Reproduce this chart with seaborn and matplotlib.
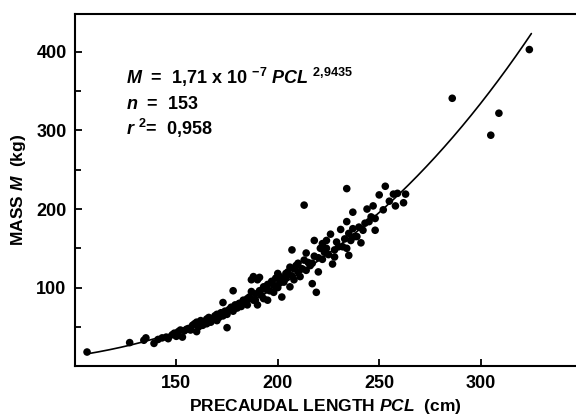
import numpy as np
import pandas as pd
import seaborn as sns
import matplotlib.pyplot as plt
from matplotlib.ticker import MultipleLocator

# Precaudal length (cm) and mass (kg)
pcl = [106, 127, 134, 135, 139, 141, 143, 145, 146, 148,
       149, 150, 151, 152, 153, 154, 155, 156, 157, 158,
       159, 160, 160, 161, 162, 163, 164, 165, 165, 166,
       167, 168, 169, 170, 170, 171, 172, 173, 173, 174,
       175, 175, 176, 177, 178, 178, 179, 180, 181, 182,
       183, 184, 185, 185, 186, 187, 187, 188, 188, 189,
       189, 190, 190, 191, 191, 192, 193, 193, 194, 195,
       195, 196, 197, 198, 198, 199, 200, 200, 201, 201,
       202, 202, 203, 204, 204, 205, 206, 206, 207, 207,
       208, 208, 209, 210, 210, 211, 212, 213, 213, 214,
       214, 215, 216, 217, 217, 218, 218, 219, 220, 220,
       221, 222, 222, 223, 224, 224, 225, 226, 227, 228,
       228, 229, 230, 231, 232, 233, 234, 234, 234, 235,
       235, 236, 237, 237, 238, 239, 240, 241, 242, 243,
       244, 245, 246, 247, 248, 248, 250, 252, 253, 255,
       257, 258, 259, 262, 263, 286, 305, 309, 324]
mass = [18, 30, 33, 36, 29, 34, 36, 37, 35, 40,
        42, 38, 44, 46, 37, 45, 47, 48, 46, 52,
        54, 44, 56, 50, 58, 52, 57, 60, 54, 62,
        56, 60, 64, 58, 66, 62, 68, 81, 64, 70,
        49, 66, 72, 75, 96, 70, 78, 74, 80, 76,
        84, 80, 86, 78, 88, 110, 95, 114, 84, 84,
        92, 78, 110, 113, 96, 90, 101, 86, 98, 84,
        104, 96, 108, 103, 94, 112, 118, 100, 114, 106,
        88, 108, 107, 118, 112, 120, 101, 126, 148, 115,
        124, 110, 128, 131, 120, 114, 124, 135, 205, 122,
        144, 132, 128, 131, 105, 140, 160, 94, 120, 138,
        150, 136, 156, 145, 150, 160, 142, 168, 130, 139,
        148, 158, 152, 174, 152, 162, 226, 184, 150, 141,
        169, 160, 175, 196, 165, 165, 177, 157, 173, 182,
        200, 184, 190, 204, 173, 188, 218, 199, 229, 210,
        219, 204, 220, 208, 219, 341, 294, 322, 403]

# fitted power law M = a * PCL^b (cm, kg)
fit_coef = 1.71e-5
fit_exp = 2.9435
fit_range = (106, 325)

df = pd.DataFrame({"pcl": pcl, "mass": mass})
xs = np.linspace(fit_range[0], fit_range[1], 200)
curve = pd.DataFrame({"pcl": xs, "mass": fit_coef * xs ** fit_exp})

sns.set_style("ticks")
plt.rcParams["font.family"] = ["Liberation Sans", "DejaVu Sans"]
plt.rcParams["font.weight"] = "bold"
plt.rcParams["axes.labelweight"] = "bold"
plt.rcParams["text.color"] = "black"
plt.rcParams["axes.labelcolor"] = "black"
plt.rcParams["xtick.color"] = "black"
plt.rcParams["ytick.color"] = "black"
plt.rcParams["mathtext.fontset"] = "custom"
plt.rcParams["mathtext.rm"] = "Liberation Sans:bold"
plt.rcParams["mathtext.it"] = "Liberation Sans:italic:bold"
plt.rcParams["mathtext.bf"] = "Liberation Sans:bold"

fig = plt.figure(figsize=(5.76, 4.18), dpi=100)
ax = fig.add_axes([0.130, 0.124, 0.870, 0.842])

sns.lineplot(data=curve, x="pcl", y="mass", color="black", linewidth=1.2, ax=ax)
sns.scatterplot(data=df, x="pcl", y="mass", color="black", s=30,
                edgecolor="none", ax=ax, zorder=3)

ax.set_xlim(100, 347)
ax.set_ylim(0, 448)
ax.set_xticks([150, 200, 250, 300])
ax.set_yticks([100, 200, 300, 400])
ax.yaxis.set_minor_locator(MultipleLocator(50))
ax.tick_params(direction="in", length=5, width=1.3, labelsize=13, pad=6)
ax.tick_params(axis="y", which="minor", direction="in", length=4, width=1.3)

for side in ["left", "bottom", "top"]:
    ax.spines[side].set_linewidth(1.5)
    ax.spines[side].set_color("black")
ax.spines["right"].set_visible(False)

ax.set_xlabel(r"PRECAUDAL LENGTH $\mathit{PCL}$  (cm)", fontsize=12.5, labelpad=4)
ax.set_ylabel(r"MASS $\mathit{M}$  (kg)", fontsize=12.5, labelpad=6)

ax.text(125, 367, r"$\mathit{M}$  =  1,71 x 10 $^{-7}$ $\mathit{PCL}$ $^{2{,}9435}$",
        fontsize=13, va="center")
ax.text(125, 333, r"$\mathit{n}$  =  153", fontsize=13, va="center")
ax.text(125, 303, r"$\mathit{r}$ $^{2}$=  0,958", fontsize=13, va="center")

fig.savefig("out.png", dpi=100)
